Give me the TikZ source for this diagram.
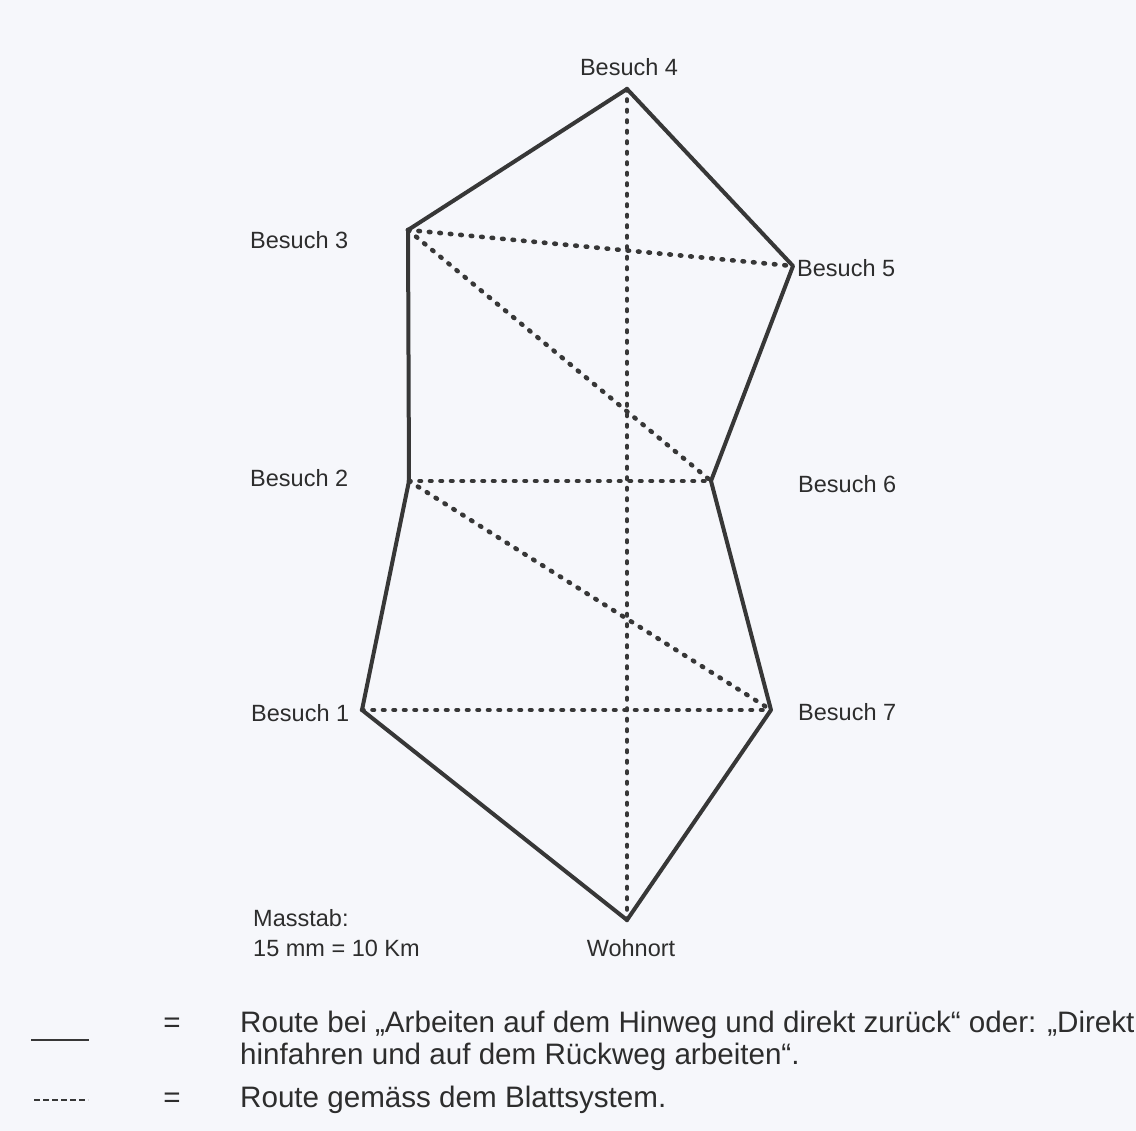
\documentclass[tikz,border=0pt]{standalone}
\usepackage{fontspec}
\setmainfont{Liberation Sans}
\definecolor{papier}{RGB}{246,247,251}
\definecolor{strich}{RGB}{55,55,55}
\definecolor{schrift}{RGB}{45,45,45}

\tikzset{
  route/.style={draw=strich, line width=4pt, line cap=round, line join=round},
  blatt/.style={draw=strich, line width=4.6pt, line cap=round, dash pattern=on 1.5pt off 9pt},
  ort/.style={inner sep=0pt, text=schrift, font=\fontsize{23.5}{28}\selectfont},
  legende/.style={inner sep=0pt, text=schrift, font=\fontsize{29.6}{31}\selectfont},
}

\begin{document}
\begin{tikzpicture}[x=1pt, y=-1pt]

  %% Hintergrund (Scan)
  \fill[papier] (0,0) rectangle (1136,1131);

  %% Besuchsorte
  \coordinate (wohn) at (627,920);
  \coordinate (b1) at (362,710);
  \coordinate (b2) at (409,481);
  \coordinate (b3) at (408,230);
  \coordinate (b4) at (627,89);
  \coordinate (b5) at (793,266);
  \coordinate (b6) at (711,481);
  \coordinate (b7) at (771,710);

  %% Blattsystem (gestrichelt)
  \draw[blatt] (b4) -- (wohn);
  \draw[blatt] (b3) -- (b5);
  \draw[blatt] (b3) -- (b6);
  \draw[blatt] (b2) -- (b6);
  \draw[blatt] (b2) -- (b7);
  \draw[blatt] (b1) -- (b7);

  %% Hinweg / Rueckweg
  \draw[route] (wohn) -- (b1) -- (b2) -- (b3) -- (b4) -- (b5) -- (b6) -- (b7) -- cycle;

  %% Beschriftung
  \node[ort] (l4) at (629,67) {Besuch 4};
  \node[ort, anchor=west] (l3) at (250,240) {Besuch 3};
  \node[ort, anchor=west] (l5) at (797,268) {Besuch 5};
  \node[ort, anchor=west] (l2) at (250,478) {Besuch 2};
  \node[ort, anchor=west] (l6) at (798,484) {Besuch 6};
  \node[ort, anchor=west] (l1) at (251,713) {Besuch 1};
  \node[ort, anchor=west] (l7) at (798,712) {Besuch 7};
  \node[ort] (lw) at (631,948) {Wohnort};
  \node[ort, anchor=west] (mass) at (253,918) {Masstab:};
  \node[ort, anchor=west] (skala) at (253,948) {15 mm = 10 Km};

  %% Legende
  \coordinate (s1) at (31,1040);
  \coordinate (s2) at (89,1040);
  \coordinate (g1) at (34,1100);
  \coordinate (g2) at (88,1100);
  \draw[strich, line width=1.6pt] (s1) -- (s2);
  \draw[strich, line width=1.6pt, dash pattern=on 6pt off 3pt] (g1) -- (g2);
  \node[legende] (gl1) at (172,1025) {=};
  \node[legende] (gl2) at (172,1100) {=};
  \node[legende, anchor=west] (txt1) at (240,1025) {Route bei „Arbeiten auf dem Hinweg und direkt zurück“ oder: „Direkt};
  \node[legende, anchor=west] (txt2) at (240,1057) {hinfahren und auf dem Rückweg arbeiten“.};
  \node[legende, anchor=west] (txt3) at (240,1100) {Route gemäss dem Blattsystem.};

  \pgfresetboundingbox
  \path[use as bounding box] (0,0) rectangle (1136,1131);
\end{tikzpicture}
\end{document}
